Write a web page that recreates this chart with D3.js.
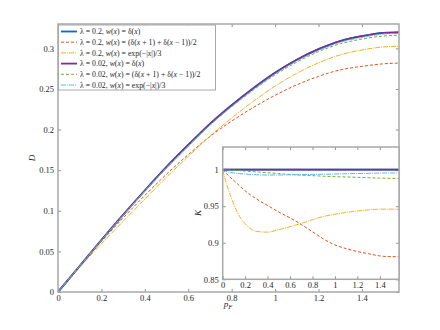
<html>
<head>
<meta charset="utf-8">
<script src="https://cdn.jsdelivr.net/npm/d3@7"></script>
<style>
  body { margin: 0; background: #fff; }
  text { font-family: "Liberation Serif", "DejaVu Serif", serif; fill: #262626; }
</style>
</head>
<body>
<div id="chart"></div>
<script>

// main plot, D(pF)
let pGrid = [0, 0.1, 0.2, 0.3, 0.4, 0.5, 0.6, 0.7, 0.8, 0.9, 1.0, 1.1, 1.2, 1.3, 1.4, 1.5, 1.5708];
let dBlue   = [0, 0.032, 0.064, 0.095, 0.125, 0.154, 0.181, 0.207, 0.230, 0.251, 0.270, 0.286, 0.299, 0.309, 0.315, 0.319, 0.3195];
let dOrange = [0, 0.0315, 0.0621, 0.0912, 0.1189, 0.1451, 0.1691, 0.1915, 0.2105, 0.2272, 0.2422, 0.2551, 0.2655, 0.2735, 0.2778, 0.2810, 0.2819];
let dYellow = [0, 0.0305, 0.0593, 0.0870, 0.1143, 0.1414, 0.1669, 0.1918, 0.2142, 0.2349, 0.2535, 0.2693, 0.2821, 0.2920, 0.2980, 0.3018, 0.3026];
let dPurple = [0, 0.032, 0.064, 0.095, 0.125, 0.154, 0.181, 0.207, 0.230, 0.251, 0.270, 0.286, 0.299, 0.309, 0.315, 0.319, 0.320];
let dGreen  = [0, 0.032, 0.0639, 0.0947, 0.1245, 0.1532, 0.1798, 0.2054, 0.2281, 0.2487, 0.2674, 0.2831, 0.2959, 0.3056, 0.3114, 0.3152, 0.3162];
let dLight  = [0, 0.0319, 0.0636, 0.0943, 0.1241, 0.1529, 0.1797, 0.2056, 0.2285, 0.2494, 0.2684, 0.2844, 0.2974, 0.3075, 0.3135, 0.3176, 0.3186];

// inset, K(pF)
let kGrid = [0, 0.025, 0.05, 0.1, 0.15, 0.2, 0.3, 0.4, 0.5, 0.6, 0.7, 0.8, 0.9, 1.0, 1.1, 1.2, 1.3, 1.4, 1.5, 1.5708];
let kBlue   = [1, 1, 1, 1, 1, 1, 1, 1, 1, 1, 1, 1, 1, 1, 1, 1, 1, 1, 1, 1];
let kOrange = [1, 0.996, 0.992, 0.985, 0.978, 0.971, 0.960, 0.951, 0.942, 0.934, 0.925, 0.915, 0.905, 0.897, 0.892, 0.888, 0.885, 0.882, 0.881, 0.881];
let kYellow = [1, 0.985, 0.973, 0.952, 0.936, 0.926, 0.9155, 0.9145, 0.918, 0.922, 0.9265, 0.9315, 0.936, 0.939, 0.9415, 0.9435, 0.945, 0.946, 0.946, 0.9457];
let kPurple = [1, 1, 1, 1, 1, 1, 1, 1, 1, 1, 1, 1, 1, 1, 1, 1, 1, 1, 1, 1];
let kGreen  = [1, 0.9998, 0.9996, 0.9992, 0.9986, 0.998, 0.997, 0.9958, 0.9946, 0.9935, 0.9925, 0.9918, 0.991, 0.9904, 0.99, 0.9895, 0.989, 0.9885, 0.9882, 0.988];
let kLight  = [1, 0.998, 0.9968, 0.9955, 0.9946, 0.994, 0.993, 0.9927, 0.9927, 0.993, 0.9932, 0.9935, 0.9937, 0.994, 0.9944, 0.9948, 0.995, 0.9953, 0.9955, 0.9955];

let mainXTicks = [0, 0.2, 0.4, 0.6, 0.8, 1, 1.2, 1.4];
let mainYTicks = [0, 0.05, 0.1, 0.15, 0.2, 0.25, 0.3];
let insetXTicks = [0, 0.2, 0.4, 0.6, 0.8, 1, 1.2, 1.4];
let insetYTicks = [0.85, 0.9, 0.95, 1];

let labels = [
  ['0.2', 'δ(', ')'],
  ['0.2', '(δ(', ' + 1) + δ(', ' − 1))/2'],
  ['0.2', 'exp(−|', '|)/3'],
  ['0.02', 'δ(', ')'],
  ['0.02', '(δ(', ' + 1) + δ(', ' − 1))/2'],
  ['0.02', 'exp(−|', '|)/3']
];

let series = [
  {d: dBlue,   k: kBlue,   color: '#0072BD', width: 1.8, dash: null},
  {d: dOrange, k: kOrange, color: '#D95319', width: 1,   dash: '3,2'},
  {d: dYellow, k: kYellow, color: '#EDB120', width: 1,   dash: '5,1,1,1'},
  {d: dPurple, k: kPurple, color: '#7E2F8E', width: 1.8, dash: null},
  {d: dGreen,  k: kGreen,  color: '#77AC30', width: 1,   dash: '3,2'},
  {d: dLight,  k: kLight,  color: '#4DBEEE', width: 1,   dash: '5,1,1,1'}
];

let width = 440, height = 330;
let frameColor = '#a8a8a8';

let svg = d3.select('#chart').append('svg')
    .attr('width', width)
    .attr('height', height);

function drawPanel(g, box, xDom, yDom, xTicks, yTicks, key, grid) {
  let x = d3.scaleLinear().domain(xDom).range([box.left, box.right]);
  let y = d3.scaleLinear().domain(yDom).range([box.bottom, box.top]);

  g.append('rect')
      .attr('x', box.left).attr('y', box.top)
      .attr('width', box.right - box.left).attr('height', box.bottom - box.top)
      .attr('fill', '#fff');

  g.append('clipPath').attr('id', 'clip-' + key)
    .append('rect')
      .attr('x', box.left).attr('y', box.top)
      .attr('width', box.right - box.left).attr('height', box.bottom - box.top);

  let line = d3.line()
      .x(d => x(d[0]))
      .y(d => y(d[1]))
      .curve(d3.curveMonotoneX);

  let lines = g.append('g').attr('clip-path', 'url(#clip-' + key + ')');
  series.forEach(s => {
    lines.append('path')
        .datum(grid.map((p, i) => [p, s[key][i]]))
        .attr('d', line)
        .attr('fill', 'none')
        .attr('stroke', s.color)
        .attr('stroke-width', s.width)
        .attr('stroke-dasharray', s.dash);
  });

  let fmt = d => String(d);
  let axB = g.append('g').attr('transform', 'translate(0,' + box.bottom + ')')
      .call(d3.axisBottom(x).tickValues(xTicks).tickFormat(fmt).tickSize(-3).tickPadding(3));
  let axT = g.append('g').attr('transform', 'translate(0,' + box.top + ')')
      .call(d3.axisTop(x).tickValues(xTicks).tickFormat('').tickSize(-3));
  let axL = g.append('g').attr('transform', 'translate(' + box.left + ',0)')
      .call(d3.axisLeft(y).tickValues(yTicks).tickFormat(fmt).tickSize(-3).tickPadding(4));
  let axR = g.append('g').attr('transform', 'translate(' + box.right + ',0)')
      .call(d3.axisRight(y).tickValues(yTicks).tickFormat('').tickSize(-3));

  [axB, axT, axL, axR].forEach(a => {
    a.select('.domain').remove();
    a.selectAll('line').attr('stroke', '#444').attr('stroke-width', 0.6);
    a.selectAll('text').attr('font-family', '"Liberation Serif", serif').attr('font-size', 8.5).attr('fill', '#262626');
  });

  g.append('rect')
      .attr('x', box.left).attr('y', box.top)
      .attr('width', box.right - box.left).attr('height', box.bottom - box.top)
      .attr('fill', 'none')
      .attr('stroke', frameColor)
      .attr('stroke-width', 1.5);

  return {x, y};
}

let mainBox = {left: 58, right: 399, top: 24, bottom: 292};
let insetBox = {left: 222.7, right: 399, top: 147, bottom: 279.3};

let mainG = svg.append('g');
drawPanel(mainG, mainBox, [0, Math.PI / 2], [0, 0.33], mainXTicks, mainYTicks, 'd', pGrid);

// axis labels
mainG.append('text')
    .attr('x', 228).attr('y', 307)
    .attr('text-anchor', 'middle')
    .attr('font-size', 9).attr('font-style', 'italic')
    .text('p')
  .append('tspan')
    .attr('font-size', 6.5).attr('dy', 1.5)
    .text('F');

mainG.append('text')
    .attr('transform', 'translate(35,158) rotate(-90)')
    .attr('text-anchor', 'middle')
    .attr('font-size', 9).attr('font-style', 'italic')
    .text('D');

// legend
let leg = mainG.append('g');
leg.append('rect')
    .attr('x', 58.5).attr('y', 25)
    .attr('width', 157).attr('height', 65)
    .attr('fill', '#fff')
    .attr('stroke', frameColor)
    .attr('stroke-width', 1);

series.forEach((s, i) => {
  let yy = 31.5 + i * 10.7;
  leg.append('line')
      .attr('x1', 61).attr('x2', 77)
      .attr('y1', yy).attr('y2', yy)
      .attr('stroke', s.color)
      .attr('stroke-width', s.width)
      .attr('stroke-dasharray', s.dash);
  let lab = labels[i];
  let t = leg.append('text')
      .attr('x', 80).attr('y', yy + 2.8)
      .attr('font-size', 7.8);
  t.append('tspan').text('λ = ' + lab[0] + ', ');
  t.append('tspan').attr('font-style', 'italic').text('w');
  t.append('tspan').text('(');
  t.append('tspan').attr('font-style', 'italic').text('x');
  t.append('tspan').text(') = ' + lab[1]);
  t.append('tspan').attr('font-style', 'italic').text('x');
  t.append('tspan').text(lab[2]);
  if (lab.length > 3) {
    t.append('tspan').attr('font-style', 'italic').text('x');
    t.append('tspan').text(lab[3]);
  }
});

// inset
let insetG = svg.append('g');
drawPanel(insetG, insetBox, [0, Math.PI / 2], [0.85, 1.031], insetXTicks, insetYTicks, 'k', kGrid);

insetG.append('text')
    .attr('transform', 'translate(201,213) rotate(-90)')
    .attr('text-anchor', 'middle')
    .attr('font-size', 9).attr('font-style', 'italic')
    .text('K');

</script>
</body>
</html>
